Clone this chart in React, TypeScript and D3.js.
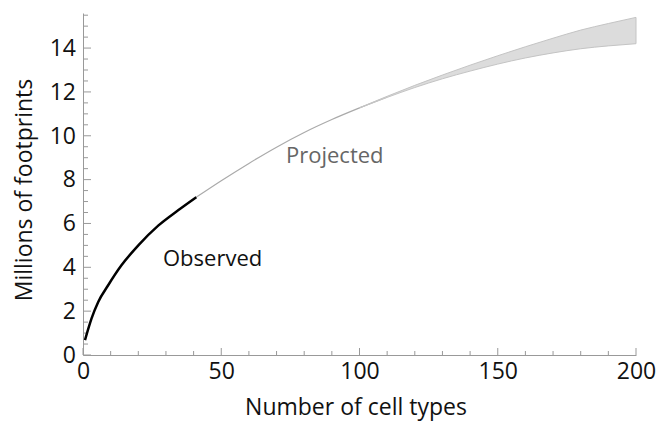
import React, { useEffect, useRef } from "react";
import * as d3 from "d3";

// observed curve (cell types -> millions of footprints)
const observedX = [0.72, 3.1, 5.5, 9.1, 13.9, 20, 27.2, 34.4, 41];
const observedY = [0.68, 1.67, 2.42, 3.18, 4.09, 5.0, 5.9, 6.6, 7.2];

// projected mid line
const projX = [41, 50, 60, 70, 80, 90, 100, 110];
const projY = [7.2, 7.95, 8.74, 9.48, 10.15, 10.74, 11.27, 11.77];

// uncertainty band
const bandX = [100, 110, 120, 130, 140, 150, 160, 170, 180, 190, 200];
const bandLow = [11.27, 11.75, 12.2, 12.6, 12.95, 13.27, 13.55, 13.78, 13.97, 14.1, 14.2];
const bandHigh = [11.28, 11.8, 12.3, 12.77, 13.22, 13.65, 14.06, 14.45, 14.82, 15.12, 15.4];

const xTicks = [0, 50, 100, 150, 200];
const yTicks = [0, 2, 4, 6, 8, 10, 12, 14];

const W = 657;
const H = 425;
const margin = { top: 13, right: 21, bottom: 70, left: 83 };
const FONT = "'Open Sans', sans-serif";

const App = () => {
  const ref = useRef<SVGSVGElement>(null);

  useEffect(() => {
    const svg = d3.select(ref.current);
    svg.selectAll("*").remove();

    const x = d3.scaleLinear().domain([0, 200]).range([margin.left, W - margin.right]);
    const y = d3.scaleLinear().domain([0, 15.6]).range([H - margin.bottom, margin.top]);

    // minor ticks, pointing inwards
    const g = svg.append("g");
    g.selectAll(".xminor")
      .data(d3.range(0, 201, 10))
      .join("line")
      .attr("x1", d => x(d)).attr("x2", d => x(d))
      .attr("y1", y(0)).attr("y2", d => y(0) - (d % 50 === 0 ? 7 : 4))
      .attr("stroke", "#999").attr("stroke-width", 1);
    g.selectAll(".yminor")
      .data(d3.range(0, 15.6, 0.5))
      .join("line")
      .attr("x1", x(0)).attr("x2", d => x(0) + (d % 2 === 0 ? 8 : 5))
      .attr("y1", d => y(d)).attr("y2", d => y(d))
      .attr("stroke", "#999").attr("stroke-width", 1);

    // x axis
    const xAxis = svg.append("g")
      .attr("transform", `translate(0,${y(0)})`)
      .call(d3.axisBottom(x).tickValues(xTicks).tickSize(0).tickPadding(8));
    xAxis.select(".domain").attr("stroke", "#999");
    xAxis.selectAll("text")
      .attr("font-family", FONT).attr("font-size", 23).attr("fill", "#111");

    // y axis
    const yAxis = svg.append("g")
      .attr("transform", `translate(${x(0)},0)`)
      .call(d3.axisLeft(y).tickValues(yTicks).tickSize(0).tickPadding(7));
    yAxis.select(".domain").attr("stroke", "#999");
    yAxis.selectAll("text")
      .attr("font-family", FONT).attr("font-size", 23).attr("fill", "#111");

    // projected line
    const proj = projX.map((d, i) => [d, projY[i]] as [number, number]);
    svg.append("path")
      .attr("d", d3.line().curve(d3.curveMonotoneX).x(d => x(d[0])).y(d => y(d[1]))(proj))
      .attr("fill", "none").attr("stroke", "#aaa").attr("stroke-width", 1.2);

    // band
    const band = bandX.map((d, i) => ({ x: d, lo: bandLow[i], hi: bandHigh[i] }));
    svg.append("path")
      .attr("d", d3.area<any>().curve(d3.curveMonotoneX)
        .x(d => x(d.x)).y0(d => y(d.lo)).y1(d => y(d.hi))(band))
      .attr("fill", "#dcdcdc").attr("stroke", "#c4c4c4").attr("stroke-width", 1);

    // observed line
    const obs = observedX.map((d, i) => [d, observedY[i]] as [number, number]);
    svg.append("path")
      .attr("d", d3.line().curve(d3.curveMonotoneX).x(d => x(d[0])).y(d => y(d[1]))(obs))
      .attr("fill", "none").attr("stroke", "#000").attr("stroke-width", 2.5);

    // labels
    svg.append("text")
      .attr("x", 163).attr("y", 266)
      .attr("font-family", FONT).attr("font-size", 22).attr("fill", "#111")
      .text("Observed");
    svg.append("text")
      .attr("x", 286).attr("y", 163)
      .attr("font-family", FONT).attr("font-size", 22).attr("fill", "#666")
      .text("Projected");

    // axis titles
    svg.append("text")
      .attr("x", 356).attr("y", 415)
      .attr("text-anchor", "middle")
      .attr("font-family", FONT).attr("font-size", 23).attr("fill", "#111")
      .text("Number of cell types");
    svg.append("text")
      .attr("transform", `translate(32,190) rotate(-90)`)
      .attr("text-anchor", "middle")
      .attr("font-family", FONT).attr("font-size", 23).attr("fill", "#111")
      .text("Millions of footprints");
  });

  return (
    <svg ref={ref} width={W} height={H}
      style={{ position: "absolute", left: 0, top: 0, background: "#fff" }} />
  );
};

export default App;
